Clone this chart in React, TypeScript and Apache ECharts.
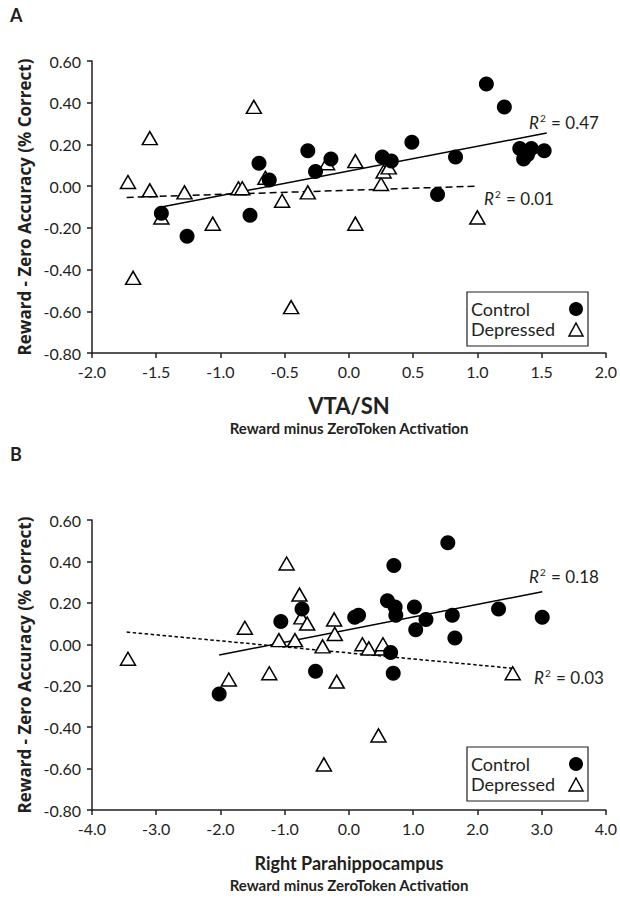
import React, { useEffect, useRef } from "react";
import * as echarts from "echarts";

// Panel A: VTA/SN
const controlA: [number, number][] = [
  [-1.46, -0.13], [-1.26, -0.24], [-0.77, -0.14], [-0.7, 0.11], [-0.62, 0.03],
  [-0.32, 0.17], [-0.26, 0.07], [-0.14, 0.13], [0.26, 0.14], [0.33, 0.12],
  [0.49, 0.21], [0.69, -0.04], [0.83, 0.14], [1.07, 0.49], [1.21, 0.38],
  [1.33, 0.18], [1.36, 0.13], [1.39, 0.15], [1.42, 0.18], [1.52, 0.17],
];
const depressedA: [number, number][] = [
  [-1.72, 0.02], [-1.68, -0.44], [-1.55, 0.23], [-1.55, -0.02], [-1.46, -0.15],
  [-1.28, -0.03], [-1.06, -0.18], [-0.86, -0.01], [-0.83, -0.01], [-0.74, 0.38],
  [-0.65, 0.04], [-0.52, -0.07], [-0.45, -0.58], [-0.32, -0.03], [-0.17, 0.11],
  [0.05, 0.12], [0.05, -0.18], [0.25, 0.01], [0.27, 0.07], [0.31, 0.09], [1.0, -0.15],
];
const fitControlA: [number, number][] = [[-1.46, -0.1], [1.54, 0.255]];
const fitDepressedA: [number, number][] = [[-1.73, -0.054], [1.0, 0.0]];

// Panel B: Right Parahippocampus
const controlB: [number, number][] = [
  [-2.02, -0.24], [-1.06, 0.11], [-0.73, 0.17], [-0.52, -0.13], [0.09, 0.13],
  [0.15, 0.14], [0.6, 0.21], [0.65, -0.04], [0.69, -0.14], [0.7, 0.38],
  [0.72, 0.18], [0.73, 0.14], [1.02, 0.18], [1.04, 0.07], [1.2, 0.12],
  [1.54, 0.49], [1.61, 0.14], [1.65, 0.03], [2.33, 0.17], [3.01, 0.13],
];
const depressedB: [number, number][] = [
  [-3.44, -0.07], [-1.87, -0.17], [-1.62, 0.08], [-1.24, -0.14], [-1.09, 0.02],
  [-0.97, 0.39], [-0.84, 0.02], [-0.77, 0.24], [-0.74, 0.13], [-0.65, 0.1],
  [-0.41, -0.01], [-0.39, -0.58], [-0.23, 0.12], [-0.22, 0.05], [-0.19, -0.18],
  [0.21, 0.0], [0.31, -0.02], [0.46, -0.44], [0.51, -0.02], [0.53, 0.0], [2.55, -0.14],
];
const fitControlB: [number, number][] = [[-2.02, -0.052], [3.01, 0.254]];
const fitDepressedB: [number, number][] = [[-3.46, 0.059], [2.55, -0.116]];

const yTitle = "Reward - Zero Accuracy (% Correct)";
const xTitleA = "VTA/SN";
const xTitleB = "Right Parahippocampus";
const xSubTitle = "Reward minus ZeroToken Activation";
const r2Labels = ["0.47", "0.01", "0.18", "0.03"];

const FONT = "Lato, 'Open Sans', sans-serif";
const INK = "#231f20";

export default function App() {
  const ref = useRef<HTMLDivElement>(null);
  useEffect(() => {
    if (!ref.current) return;
    const chart = echarts.init(ref.current, undefined, { renderer: "svg" });
    const yAxisBase = (gridIndex: number) => ({
      type: "value",
      gridIndex,
      min: -0.8,
      max: 0.6,
      interval: 0.2,
      name: yTitle,
      nameLocation: "middle",
      nameGap: 59,
      nameRotate: 90,
      nameTextStyle: { fontFamily: "'Open Sans', Lato, sans-serif", fontWeight: "bold", fontSize: 17, color: INK },
      axisLine: { show: true, onZero: false, lineStyle: { color: INK, width: 1.5 } },
      axisTick: { show: true, length: 5, lineStyle: { color: INK, width: 1.5 } },
      axisLabel: {
        fontFamily: FONT, fontSize: 16, color: INK, margin: 11,
        formatter: (v: number) => v.toFixed(2),
      },
      splitLine: { show: false },
    });
    const xAxisBase = (gridIndex: number, min: number, max: number, interval: number) => ({
      type: "value",
      gridIndex,
      min,
      max,
      interval,
      axisLine: { show: true, onZero: false, lineStyle: { color: INK, width: 1.5 } },
      axisTick: { show: true, length: 5, lineStyle: { color: INK, width: 1.5 } },
      axisLabel: {
        fontFamily: FONT, fontSize: 16, color: INK, margin: 10,
        formatter: (v: number) => v.toFixed(1),
      },
      splitLine: { show: false },
    });
    const circle = (name: string, data: [number, number][], idx: number) => ({
      name, type: "scatter", xAxisIndex: idx, yAxisIndex: idx, data,
      symbol: "circle", symbolSize: 15, z: 4,
      itemStyle: { color: "#000", borderColor: "#000", borderWidth: 0, opacity: 1 },
    });
    const tri = (name: string, data: [number, number][], idx: number) => ({
      name, type: "scatter", xAxisIndex: idx, yAxisIndex: idx, data,
      symbol: "triangle", symbolSize: [15, 13], z: 3,
      itemStyle: { color: "#fff", borderColor: "#000", borderWidth: 1.5, opacity: 1 },
    });
    const line = (name: string, data: [number, number][], idx: number, dashed: number[] | null) => ({
      name, type: "line", xAxisIndex: idx, yAxisIndex: idx, data,
      symbol: "none", z: 2,
      lineStyle: { color: "#000", width: 1.5, type: dashed ? dashed : "solid" },
    });
    const r2 = (val: string, x: number, y: number) => ({
      type: "text", x, y,
      style: {
        text: `{i|R}{s|2}{n| = ${val}}`,
        rich: {
          i: { fontFamily: FONT, fontSize: 17, fontStyle: "italic", fill: INK },
          s: { fontFamily: FONT, fontSize: 10, fill: INK, verticalAlign: "top", padding: [0, 1, 8, 1] },
          n: { fontFamily: FONT, fontSize: 17, fill: INK },
        },
        verticalAlign: "middle",
      },
    });
    const legend = (top: number) => ({
      type: "group", x: 467, y: top,
      children: [
        { type: "rect", shape: { x: 0, y: 0, width: 121, height: 54 }, style: { fill: "#fff", stroke: INK, lineWidth: 1.2 } },
        { type: "text", x: 4, y: 17, style: { text: "Control", fontFamily: FONT, fontSize: 18, fill: INK, verticalAlign: "middle" } },
        { type: "text", x: 4, y: 37, style: { text: "Depressed", fontFamily: FONT, fontSize: 18, fill: INK, verticalAlign: "middle" } },
        { type: "circle", shape: { cx: 109, cy: 17, r: 7 }, style: { fill: "#000" } },
        { type: "polygon", shape: { points: [[109, 31], [116, 44], [102, 44]] }, style: { fill: "#fff", stroke: "#000", lineWidth: 1.5 } },
      ],
    });
    const title = (text: string, y: number, size: number) => ({
      type: "text", x: 349, y,
      style: { text, fontFamily: FONT, fontWeight: "bold", fontSize: size, fill: INK, align: "center", verticalAlign: "middle" },
    });
    chart.setOption({
      animation: false,
      backgroundColor: "#fff",
      grid: [
        { left: 92, top: 61, width: 514, height: 292 },
        { left: 92, top: 520, width: 514, height: 290 },
      ],
      xAxis: [xAxisBase(0, -2, 2, 0.5), xAxisBase(1, -4, 4, 1)],
      yAxis: [yAxisBase(0), yAxisBase(1)],
      series: [
        line("Depressed fit A", fitDepressedA, 0, [7, 4]),
        line("Control fit A", fitControlA, 0, null),
        tri("Depressed A", depressedA, 0),
        circle("Control A", controlA, 0),
        line("Depressed fit B", fitDepressedB, 1, [3.5, 2.5]),
        line("Control fit B", fitControlB, 1, null),
        tri("Depressed B", depressedB, 1),
        circle("Control B", controlB, 1),
      ],
      graphic: [
        { type: "text", x: 10, y: 15, style: { text: "A", fontFamily: FONT, fontWeight: "bold", fontSize: 18, fill: INK, verticalAlign: "middle" } },
        { type: "text", x: 10, y: 454, style: { text: "B", fontFamily: FONT, fontWeight: "bold", fontSize: 18, fill: INK, verticalAlign: "middle" } },
        title(xTitleA, 405, 22),
        title(xSubTitle, 428, 15),
        title(xTitleB, 863, 18),
        title(xSubTitle, 885, 15),
        r2(r2Labels[0], 529, 122),
        r2(r2Labels[1], 484, 198),
        r2(r2Labels[2], 529, 576),
        r2(r2Labels[3], 534, 677),
        legend(292),
        legend(747),
      ],
    });
    return () => chart.dispose();
  }, []);
  return (
    <div
      ref={ref}
      style={{ position: "fixed", left: 0, top: 0, width: 620, height: 902, background: "#fff" }}
    />
  );
}
